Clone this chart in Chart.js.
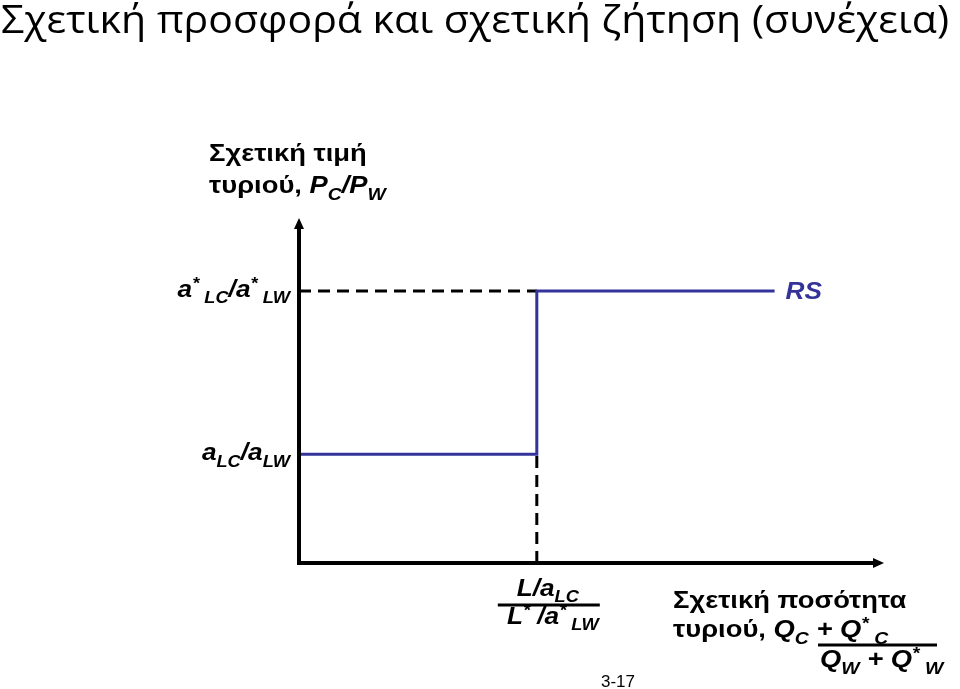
<!DOCTYPE html>
<html>
<head>
<meta charset="utf-8">
<script src="https://cdn.jsdelivr.net/npm/chart.js@4.4.1/dist/chart.umd.min.js"></script>
<style>
  html, body { margin: 0; padding: 0; background: #fff; }
  #wrap { position: relative; width: 960px; height: 689px; }
</style>
</head>
<body>
<div id="wrap"><canvas id="rsChart" width="960" height="689"></canvas></div>
<script>
/* Relative supply step curve (Ricardian model). */
const titleText = 'Σχετική προσφορά και σχετική ζήτηση (συνέχεια)';
const slideNumber = '3-17';

// x: relative quantity of cheese, break point = (L/aLC)/(L*/a*LW)
const qBreak = 1;
const qEnd = 2.0;
const qMax = 2.46;
// y: relative price of cheese
const pLow = 1;      // aLC/aLW
const pHigh = 2.5;   // a*LC/a*LW
const pMax = 3.17;

const rsX = [0, qBreak, qBreak, qEnd];
const rsY = [pLow, pLow, pHigh, pHigh];
const guideHX = [0, qBreak];
const guideHY = [pHigh, pHigh];
const guideVX = [qBreak, qBreak];
const guideVY = [0, pLow];

// tick labels as [text, position(n/b/p), italic]
const yTickValues = [pHigh, pLow];
const yTickLabels = [
    [['a', 'n', 1], ['*', 'p', 1], [' LC', 'b', 1], ['/a', 'n', 1], ['*', 'p', 1], [' LW', 'b', 1]],
    [['a', 'n', 1], ['LC', 'b', 1], ['/a', 'n', 1], ['LW', 'b', 1]],
];
const xTickNum = [['L/a', 'n', 1], ['LC', 'b', 1]];
const xTickDen = [['L', 'n', 1], ['*', 'p', 1], [' /a', 'n', 1], ['*', 'p', 1], [' LW', 'b', 1]];

const yTitle1 = [['Σχετική τιμή', 'n', 0]];
const yTitle2 = [['τυριού, ', 'n', 0], ['P', 'n', 1], ['C', 'b', 1], ['/P', 'n', 1], ['W', 'b', 1]];
const xTitle1 = [['Σχετική ποσότητα', 'n', 0]];
const xTitle2 = [['τυριού, ', 'n', 0], ['Q', 'n', 1], ['C', 'b', 1], [' + Q', 'n', 1], ['*', 'p', 1], [' C', 'b', 1]];
const xTitle3 = [['Q', 'n', 1], ['W', 'b', 1], [' + Q', 'n', 1], ['*', 'p', 1], [' W', 'b', 1]];

const NAVY = '#333399';
const FONT = '"Liberation Sans", Arial, sans-serif';
const STRETCH = 1.14;

function pts(xs, ys) {
    return xs.map((x, i) => ({ x: x, y: ys[i] }));
}

function segFont(seg, size) {
    const s = seg[1] === 'n' ? size : Math.round(size * 0.7);
    return (seg[2] ? 'italic ' : '') + 'bold ' + s + 'px ' + FONT;
}

function richWidth(ctx, segs, size) {
    let w = 0;
    segs.forEach(seg => { ctx.font = segFont(seg, size); w += ctx.measureText(seg[0]).width; });
    return w;
}

function drawRich(ctx, segs, x, y, size, align, color) {
    const w = richWidth(ctx, segs, size) * STRETCH;
    let x0 = x;
    if (align === 'right') x0 = x - w;
    if (align === 'center') x0 = x - w / 2;
    ctx.save();
    ctx.translate(x0, y);
    ctx.scale(STRETCH, 1);
    ctx.fillStyle = color || '#000';
    ctx.textBaseline = 'alphabetic';
    ctx.textAlign = 'left';
    let cx = 0;
    segs.forEach(seg => {
        ctx.font = segFont(seg, size);
        let dy = 0;
        if (seg[1] === 'b') dy = size * 0.28;
        if (seg[1] === 'p') dy = -size * 0.34;
        ctx.fillText(seg[0], cx, dy);
        cx += ctx.measureText(seg[0]).width;
    });
    ctx.restore();
    return w;
}

const diagram = {
    id: 'diagram',
    afterDraw(chart) {
        const ctx = chart.ctx;
        const a = chart.chartArea;
        const xs = chart.scales.x, ys = chart.scales.y;
        ctx.save();

        // title, fitted to the slide width
        ctx.fillStyle = '#000';
        ctx.font = '400 39px "Open Sans", sans-serif';
        ctx.textBaseline = 'alphabetic';
        ctx.textAlign = 'left';
        const tw = ctx.measureText(titleText).width;
        ctx.save();
        ctx.translate(1, 33);
        ctx.scale(948 / tw, 1);
        ctx.fillText(titleText, 0, 0);
        ctx.restore();

        // axes with arrows
        const ox = xs.getPixelForValue(0), oy = ys.getPixelForValue(0);
        ctx.strokeStyle = '#000';
        ctx.fillStyle = '#000';
        ctx.lineWidth = 4;
        ctx.beginPath();
        ctx.moveTo(ox, oy + 2);
        ctx.lineTo(ox, a.top + 8);
        ctx.moveTo(ox - 2, oy);
        ctx.lineTo(a.right - 8, oy);
        ctx.stroke();
        ctx.beginPath();
        ctx.moveTo(ox, a.top);
        ctx.lineTo(ox - 5, a.top + 11);
        ctx.lineTo(ox + 5, a.top + 11);
        ctx.closePath();
        ctx.fill();
        ctx.beginPath();
        ctx.moveTo(a.right, oy);
        ctx.lineTo(a.right - 11, oy - 5);
        ctx.lineTo(a.right - 11, oy + 5);
        ctx.closePath();
        ctx.fill();

        // y tick labels
        yTickValues.forEach((v, i) => {
            drawRich(ctx, yTickLabels[i], ox - 9, ys.getPixelForValue(v) + 6, 23, 'right');
        });

        // x tick label as a fraction
        const bx = xs.getPixelForValue(qBreak);
        drawRich(ctx, xTickNum, bx + 11, oy + 33, 23, 'center');
        ctx.lineWidth = 3;
        ctx.beginPath();
        ctx.moveTo(bx - 39, oy + 42);
        ctx.lineTo(bx + 63, oy + 42);
        ctx.stroke();
        drawRich(ctx, xTickDen, bx + 16, oy + 61, 23, 'center');

        // axis titles
        drawRich(ctx, yTitle1, 209, 161, 24, 'left');
        drawRich(ctx, yTitle2, 209, 193, 24, 'left');
        drawRich(ctx, xTitle1, 673, 608, 24, 'left');
        drawRich(ctx, xTitle2, 673, 637, 24, 'left');
        ctx.beginPath();
        ctx.moveTo(818, 645);
        ctx.lineTo(937, 645);
        ctx.stroke();
        drawRich(ctx, xTitle3, 820, 667, 24, 'left');

        // curve label
        drawRich(ctx, [['RS', 'n', 1]], xs.getPixelForValue(qEnd) + 11, ys.getPixelForValue(pHigh) + 8, 23, 'left', NAVY);

        // slide number
        ctx.fillStyle = '#000';
        ctx.font = '17px ' + FONT;
        ctx.fillText(slideNumber, 601, 687);
        ctx.restore();
    }
};

new Chart(document.getElementById('rsChart'), {
    type: 'scatter',
    data: {
        datasets: [
            { label: 'RS', data: pts(rsX, rsY), showLine: true, borderColor: NAVY, borderWidth: 3,
              pointRadius: 0, fill: false, tension: 0 },
            { label: 'guideH', data: pts(guideHX, guideHY), showLine: true, borderColor: '#000', borderWidth: 3,
              borderDash: [12, 7], pointRadius: 0 },
            { label: 'guideV', data: pts(guideVX, guideVY), showLine: true, borderColor: '#000', borderWidth: 3,
              borderDash: [12, 7], pointRadius: 0 },
        ],
    },
    options: {
        responsive: false,
        animation: false,
        devicePixelRatio: 1,
        layout: { padding: { left: 299, right: 76, top: 218, bottom: 126 } },
        plugins: { legend: { display: false }, tooltip: { enabled: false } },
        scales: {
            x: { type: 'linear', min: 0, max: qMax, display: false },
            y: { type: 'linear', min: 0, max: pMax, display: false },
        },
    },
    plugins: [diagram],
});
</script>
</body>
</html>
